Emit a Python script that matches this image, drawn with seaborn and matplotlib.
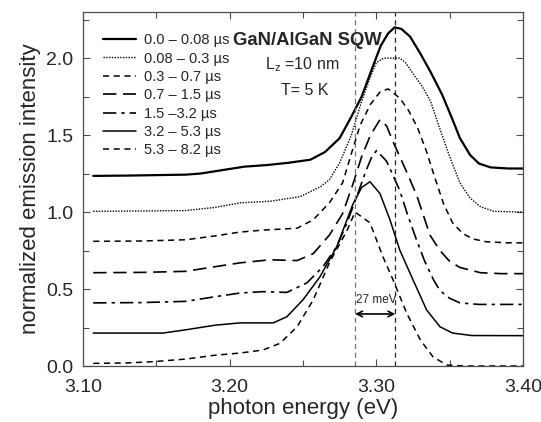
import numpy as np
import pandas as pd
import matplotlib
matplotlib.use("Agg")
import matplotlib.pyplot as plt
from matplotlib.ticker import MultipleLocator
import seaborn as sns

# time windows (legend labels)
labels = ["0.0 – 0.08 µs", "0.08 – 0.3 µs", "0.3 – 0.7 µs", "0.7 – 1.5 µs",
          "1.5 –3.2 µs", "3.2 – 5.3 µs", "5.3 – 8.2 µs"]

# spectra (photon energy in eV, offset normalized intensity)
e1 = [3.107, 3.13, 3.15, 3.17, 3.18, 3.19, 3.20, 3.21, 3.225, 3.24, 3.255, 3.265, 3.275, 3.283, 3.29,
      3.297, 3.303, 3.308, 3.3125, 3.317, 3.323, 3.33, 3.337, 3.345, 3.352, 3.357, 3.364, 3.37, 3.378, 3.39, 3.40]
i1 = [1.235, 1.237, 1.24, 1.243, 1.25, 1.265, 1.28, 1.295, 1.305, 1.32, 1.34, 1.39, 1.48, 1.62, 1.75,
      1.93, 2.08, 2.16, 2.20, 2.19, 2.14, 2.03, 1.91, 1.76, 1.60, 1.48, 1.37, 1.315, 1.29, 1.283, 1.283]

e2 = [3.107, 3.14, 3.17, 3.19, 3.207, 3.2275, 3.248, 3.262, 3.268, 3.275, 3.283, 3.29, 3.296, 3.300, 3.305,
      3.316, 3.32, 3.325, 3.331, 3.337, 3.343, 3.35, 3.357, 3.364, 3.371, 3.38, 3.40]
i2 = [1.005, 1.007, 1.01, 1.03, 1.06, 1.07, 1.10, 1.165, 1.21, 1.32, 1.50, 1.72, 1.88, 1.97, 2.0,
      2.0, 1.97, 1.90, 1.82, 1.72, 1.55, 1.36, 1.19, 1.09, 1.035, 1.005, 1.0]

e3 = [3.107, 3.14, 3.17, 3.19, 3.207, 3.223, 3.246, 3.257, 3.268, 3.277, 3.283, 3.289, 3.296, 3.3025, 3.308,
      3.316, 3.322, 3.328, 3.334, 3.34, 3.346, 3.352, 3.359, 3.366, 3.375, 3.39, 3.40]
i3 = [0.81, 0.812, 0.82, 0.845, 0.87, 0.883, 0.895, 0.95, 1.06, 1.19, 1.38, 1.565, 1.70, 1.78, 1.80,
      1.74, 1.66, 1.55, 1.40, 1.22, 1.05, 0.93, 0.86, 0.825, 0.807, 0.80, 0.80]

e4 = [3.107, 3.14, 3.17, 3.19, 3.207, 3.2275, 3.246, 3.257, 3.268, 3.277, 3.284, 3.29, 3.296, 3.3025,
      3.307, 3.3114, 3.316, 3.3207, 3.3275, 3.3366, 3.3434, 3.35, 3.357, 3.371, 3.385, 3.40]
i4 = [0.606, 0.608, 0.615, 0.645, 0.67, 0.69, 0.685, 0.73, 0.85, 0.99, 1.18, 1.36, 1.50, 1.60,
      1.56, 1.457, 1.36, 1.26, 1.11, 0.85, 0.75, 0.68, 0.64, 0.606, 0.60, 0.60]

e5 = [3.107, 3.14, 3.17, 3.19, 3.207, 3.2227, 3.239, 3.2527, 3.2636, 3.273, 3.28, 3.287, 3.293, 3.297, 3.3002,
      3.307, 3.3127, 3.316, 3.3207, 3.327, 3.333, 3.339, 3.3434, 3.35, 3.357, 3.37, 3.40]
i5 = [0.41, 0.412, 0.42, 0.45, 0.474, 0.483, 0.478, 0.54, 0.645, 0.775, 0.93, 1.11, 1.27, 1.36, 1.40,
      1.33, 1.21, 1.14, 1.00, 0.83, 0.68, 0.56, 0.49, 0.44, 0.41, 0.40, 0.40]

e6 = [3.107, 3.13, 3.1545, 3.17, 3.19, 3.207, 3.2297, 3.239, 3.25, 3.2616, 3.273, 3.284, 3.29, 3.2957,
      3.3025, 3.3093, 3.316, 3.325, 3.3343, 3.3434, 3.352, 3.365, 3.40]
i6 = [0.214, 0.214, 0.214, 0.235, 0.265, 0.28, 0.28, 0.32, 0.43, 0.58, 0.775, 1.05, 1.16, 1.197,
      1.12, 0.95, 0.753, 0.56, 0.364, 0.255, 0.214, 0.198, 0.197]

e7 = [3.107, 3.13, 3.148, 3.17, 3.19, 3.207, 3.2227, 3.2343, 3.246, 3.257, 3.268, 3.28, 3.2855, 3.2957,
      3.3045, 3.3114, 3.3207, 3.33, 3.3386, 3.348, 3.36, 3.40]
i7 = [0.017, 0.02, 0.028, 0.045, 0.07, 0.084, 0.104, 0.147, 0.255, 0.43, 0.67, 0.88, 1.0, 0.93,
      0.71, 0.56, 0.343, 0.17, 0.06, 0.006, 0.0, 0.0]

energies = [e1, e2, e3, e4, e5, e6, e7]
intens = [i1, i2, i3, i4, i5, i6, i7]

# peak positions of first and last spectrum (27 meV shift)
peak_early = 3.313
peak_late = 3.2855

styles = [
    dict(ls="-", lw=1.6),
    dict(ls=(0, (1, 1)), lw=1.0),
    dict(ls=(0, (4, 3)), lw=1.1),
    dict(ls=(0, (8, 4)), lw=1.2),
    dict(ls=(0, (8, 3, 2, 3)), lw=1.2),
    dict(ls="-", lw=1.1),
    dict(ls=(0, (4, 3)), lw=1.1),
]

sns.set_style("ticks")
plt.rcParams["font.family"] = ["Liberation Sans", "DejaVu Sans"]

fig = plt.figure(figsize=(5.41, 4.22), dpi=100)
ax = fig.add_axes([0.1534, 0.1327, 0.8133, 0.839])

for e, y, lab, st in zip(energies, intens, labels, styles):
    df = pd.DataFrame({"energy": e, "intensity": y})
    sns.lineplot(data=df, x="energy", y="intensity", ax=ax, color="black",
                 estimator=None, label=lab, linestyle=st["ls"], linewidth=st["lw"])

ax.axvline(peak_late, color="0.45", ls=(0, (4, 3)), lw=0.9)
ax.axvline(peak_early, color="0.15", ls=(0, (4, 3)), lw=0.9)

ax.annotate("", xy=(peak_late, 0.338), xytext=(peak_early, 0.338),
            arrowprops=dict(arrowstyle="<->", color="black", lw=1.2, shrinkA=0, shrinkB=0))
ax.text((peak_late + peak_early) / 2 + 0.0005, 0.43, "27 meV", ha="center", va="center", fontsize=8.5)

ax.text(3.253, 2.117, "GaN/AlGaN SQW", ha="center", va="center", fontsize=13.3, fontweight="bold")
ax.text(3.2497, 1.955, "L$_\\mathregular{z}$ =10 nm", ha="center", va="center", fontsize=11.5)
ax.text(3.2514, 1.79, "T= 5 K", ha="center", va="center", fontsize=11.5)

ax.set_xlim(3.10, 3.40)
ax.set_ylim(0, 2.3)
ax.xaxis.set_major_locator(MultipleLocator(0.1))
ax.xaxis.set_minor_locator(MultipleLocator(0.05))
ax.yaxis.set_major_locator(MultipleLocator(0.5))
ax.yaxis.set_minor_locator(MultipleLocator(0.25))
ax.set_xticks([3.10, 3.20, 3.30, 3.40])
ax.set_xticklabels(["3.10", "3.20", "3.30", "3.40"])
ax.tick_params(which="both", direction="in", top=True, right=True, labelsize=14,
               width=0.8, color="0.3")
ax.tick_params(axis="x", which="major", pad=9)
ax.tick_params(axis="y", which="major", pad=7)
ax.tick_params(which="major", length=5)
ax.tick_params(which="minor", length=4)
for s in ax.spines.values():
    s.set_linewidth(0.9)
    s.set_color("0.3")

ax.set_xlabel("photon energy (eV)", fontsize=16, labelpad=2)
ax.set_ylabel("normalized emission intensity", fontsize=16, labelpad=4)

ax.legend(loc="upper left", bbox_to_anchor=(0.045, 0.94), frameon=False, fontsize=10.5,
          handlelength=2.3, handletextpad=0.5, labelspacing=0.3, borderpad=0, borderaxespad=0)

fig.savefig("out.png", dpi=100)
